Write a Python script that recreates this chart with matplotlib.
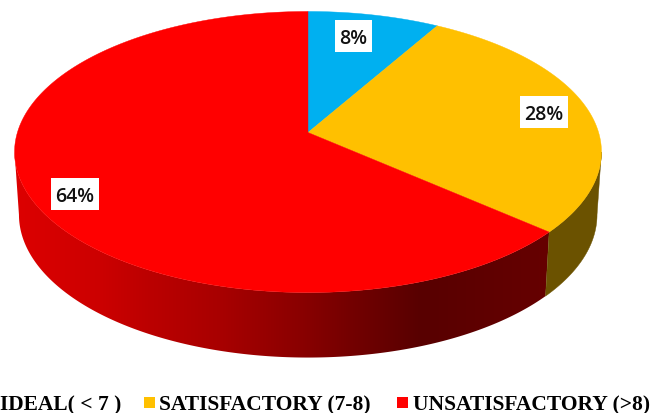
import numpy as np
import matplotlib
matplotlib.use("Agg")
import matplotlib.pyplot as plt
from matplotlib.patches import Polygon, Rectangle
from matplotlib.colors import to_rgb

labels = ["IDEAL( < 7 )", "SATISFACTORY (7-8)", "UNSATISFACTORY (>8)"]
values = [8.3, 28.1, 63.6]
value_labels = ["8%", "28%", "64%"]
colors = ["#00B0F0", "#FFC000", "#FF0000"]

W, H = 668, 414
fig = plt.figure(figsize=(W / 100, H / 100), dpi=100)
ax = fig.add_axes([0, 0, 1, 1])
ax.set_xlim(0, W)
ax.set_ylim(H, 0)
ax.axis("off")

C, A, B, Y0, XC = -0.1388, 290.6, 119.3, 133.5, 308.0
DEPTH, SHRINK = 65.0, 0.985


def top(theta):
    u, v = np.sin(theta), -np.cos(theta)
    d = 1 + C * v
    return XC + A * u / d, (B * v + Y0) / d


def bottom(theta):
    x, y = top(theta)
    return XC + (x - XC) * SHRINK, y + DEPTH * (0.93 + 0.07 * (y - 12) / 281)


fracs = np.cumsum([0] + values) / sum(values) * 2 * np.pi
starts, ends = fracs[:-1], fracs[1:]

# rim angle where the disc is widest: the wall's silhouette starts here
EDGE = np.arccos(C)


def wall_poly(t0, t1, n=200):
    th = np.linspace(t0, t1, n)
    tx, ty = top(th)
    bx, by = bottom(th)
    return np.r_[np.c_[tx, ty], np.c_[bx, by][::-1]]


# red wall: horizontal shading drawn as a clipped gradient image
red_stops = [(15, "#DD0000"), (100, "#CC0000"), (150, "#BB0000"), (220, "#A80000"),
             (300, "#8A0000"), (350, "#740000"), (420, "#580000"), (548, "#660000")]
xs_s, cs_s = zip(*red_stops)
cs_s = np.array([to_rgb(c) for c in cs_s])
grid_x = np.arange(0, 600)
grad = np.stack([np.interp(grid_x, xs_s, cs_s[:, i]) for i in range(3)], axis=-1)[None, :, :]
img = ax.imshow(grad, extent=(0, 600, 400, 100), aspect="auto", zorder=2, interpolation="bilinear")
clip = Polygon(wall_poly(ends[1], 2 * np.pi - EDGE), closed=True, transform=ax.transData, fc="none", ec="none")
ax.add_patch(clip)
img.set_clip_path(clip)
ax.set_xlim(0, W)
ax.set_ylim(H, 0)

ax.add_patch(Polygon(wall_poly(EDGE, ends[1]), closed=True, fc="#6B5200", ec="#6B5200", lw=0.3, zorder=2))

for s, e, c in zip(starts, ends, colors):
    th = np.linspace(s, e, 300)
    x, y = top(th)
    ax.add_patch(Polygon(np.r_[[[XC, Y0]], np.c_[x, y]], closed=True, fc=c, ec=c, lw=0.3, zorder=3))

label_boxes = [(335, 21, 37, 32), (520, 97, 48, 32), (51, 179, 48, 32)]
for txt, (bx, by, bw, bh) in zip(value_labels, label_boxes):
    ax.add_patch(Rectangle((bx, by), bw, bh, fc="white", ec="none", zorder=4))
    ax.text(bx + bw / 2, by + bh / 2 + 2, txt, ha="center", va="center", fontsize=14,
            family="Open Sans", fontweight="semibold", color="#111111", zorder=5)

legend_text_x = [0, 159, 413]
legend_boxes = [None, (144, 398, 11, 11), (397, 398, 11, 11)]
for txt, tx, box, c in zip(labels, legend_text_x, legend_boxes, colors):
    ax.text(tx, 405, txt, ha="left", va="center", fontsize=15.5, family="Liberation Serif",
            fontweight="bold", color="black", zorder=5)
    if box:
        ax.add_patch(Rectangle(box[:2], box[2], box[3], fc=c, ec="none", zorder=5))

fig.savefig("out.png", dpi=100, facecolor="white")
